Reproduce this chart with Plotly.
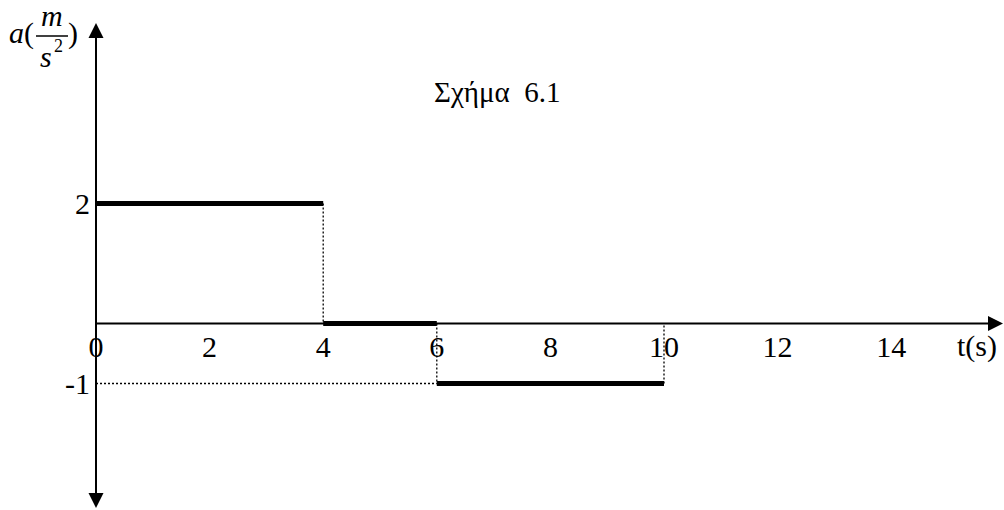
import plotly.graph_objects as go

# Piecewise-constant acceleration a(t)
t_edges = [0, 4, 6, 10]
accel = [2, 0, -1]

x_ticks = [0, 2, 4, 6, 8, 10, 12, 14]
x_tick_text = [str(v) for v in x_ticks]
y_ticks = [2, -1]
y_tick_text = ["2", "-1"]

W, H = 1004, 510
X0_PX, Y0_PX = 96, 323.5      # pixel position of the origin
SX, SY = 56.8, 60.0           # pixels per unit on each axis

x_range = [-X0_PX / SX, (W - X0_PX) / SX]
y_range = [(Y0_PX - H) / SY, Y0_PX / SY]


def dx(px):
    return (px - X0_PX) / SX


def dy(py):
    return (Y0_PX - py) / SY


SERIF = "Liberation Serif"
fig = go.Figure()

# thick steps of a(t)
for i, a in enumerate(accel):
    fig.add_trace(go.Scatter(
        x=[t_edges[i], t_edges[i + 1]], y=[a, a], mode="lines",
        line=dict(color="black", width=5), showlegend=False, hoverinfo="skip"))

# dotted guides at each jump
dot = dict(color="black", width=1.3, dash="2px,2px")
for i in range(1, len(t_edges)):
    lo = accel[i - 1]
    hi = accel[i] if i < len(accel) else 0
    fig.add_trace(go.Scatter(
        x=[t_edges[i], t_edges[i]], y=[lo, hi], mode="lines",
        line=dot, showlegend=False, hoverinfo="skip"))
# dotted level line for the negative step back to the a-axis
fig.add_trace(go.Scatter(
    x=[0, t_edges[2]], y=[accel[2], accel[2]], mode="lines",
    line=dot, showlegend=False, hoverinfo="skip"))

# coordinate axes with arrowheads
x_tip = dx(1003)
y_top = dy(23)
y_bot = dy(508)
shapes = [
    dict(type="line", x0=0, x1=dx(990), y0=0, y1=0,
         line=dict(color="black", width=2)),
    dict(type="line", x0=0, x1=0, y0=dy(495), y1=dy(36),
         line=dict(color="black", width=2)),
]
ah = 15  # arrowhead length in px
hw = 7.5  # arrowhead half width in px
shapes.append(dict(type="path", fillcolor="black", line=dict(width=0),
                   path=f"M {x_tip} 0 L {x_tip - ah / SX} {hw / SY} L {x_tip - ah / SX} {-hw / SY} Z"))
shapes.append(dict(type="path", fillcolor="black", line=dict(width=0),
                   path=f"M 0 {y_top} L {hw / SX} {y_top - ah / SY} L {-hw / SX} {y_top - ah / SY} Z"))
shapes.append(dict(type="path", fillcolor="black", line=dict(width=0),
                   path=f"M 0 {y_bot} L {hw / SX} {y_bot + ah / SY} L {-hw / SX} {y_bot + ah / SY} Z"))

# fraction bar of the a-axis unit
shapes.append(dict(type="line", xref="paper", yref="paper",
                   x0=36 / W, x1=68 / W, y0=1 - 36 / H, y1=1 - 36 / H,
                   line=dict(color="black", width=1.5)))


def note(text, px, py, size, italic=False, xanchor="center"):
    return dict(text=f"<i>{text}</i>" if italic else text,
                x=px / W, y=1 - py / H, xref="paper", yref="paper",
                xanchor=xanchor, yanchor="middle", showarrow=False,
                font=dict(family=SERIF, size=size, color="black"))


annotations = [
    note("a", 16, 33, 30, italic=True),
    note("(", 29, 33, 30),
    note("m", 52, 15, 30, italic=True),
    note("s", 46, 56, 30, italic=True),
    note("2", 58, 46, 18),
    note(")", 73, 33, 30),
    note("t(s)", 977, 346, 30),
    note("Σχήμα  6.1", 497, 92, 29),
]

fig.update_layout(
    width=W, height=H, margin=dict(l=0, r=0, t=0, b=0, pad=0),
    paper_bgcolor="white", plot_bgcolor="white",
    showlegend=False, shapes=shapes, annotations=annotations,
    xaxis=dict(range=x_range, tickvals=x_ticks, ticktext=x_tick_text,
               showgrid=False, zeroline=False, showline=False, ticks="",
               anchor="free", position=1 - Y0_PX / H, side="bottom",
               ticklabelstandoff=2,
               tickfont=dict(family=SERIF, size=30, color="black")),
    yaxis=dict(range=y_range, tickvals=y_ticks, ticktext=y_tick_text,
               showgrid=False, zeroline=False, showline=False, ticks="",
               anchor="free", position=X0_PX / W, side="left",
               ticklabelstandoff=6,
               tickfont=dict(family=SERIF, size=30, color="black")),
)

fig.write_html("out.html")
